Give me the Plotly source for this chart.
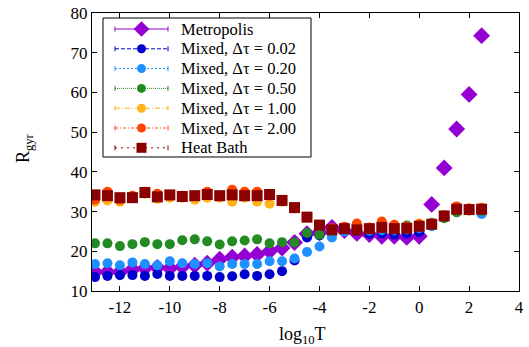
import plotly.graph_objects as go

logT = [-13 + 0.5 * i for i in range(32)]

metropolis = [14.8, 14.8, 14.8, 15.4, 15.7, 15.9, 15.7, 16.1, 16.5, 17.0, 18.0, 18.5, 18.8, 19.2, 20.0, 20.8,
              22.2, 24.4, 24.7, 26.0, 25.2, 24.5, 24.2, 23.8, 23.8, 23.5, 23.8, 31.8, 41.0, 50.8, 59.5, 74.3]
mixed_002 = [13.5, 13.8, 14.0, 14.0, 13.8, 14.3, 13.8, 13.8, 13.8, 13.8, 13.5, 13.7, 14.2, 13.8, 14.2, 15.0,
             17.7, 23.5, 24.0, 25.0, 25.5, 25.2, 24.4, 24.5, 24.2, 24.5, 24.8, 26.5, 28.6, 30.6, 30.5, 30.0]
mixed_020 = [16.8, 17.0, 16.5, 17.2, 16.8, 16.5, 17.5, 17.0, 16.8, 17.0, 16.2, 16.8, 16.8, 16.8, 17.5, 17.5,
             18.2, 19.8, 21.2, 23.5, 25.0, 25.3, 25.2, 25.3, 25.3, 25.5, 25.8, 26.3, 28.6, 30.5, 30.6, 29.4]
mixed_050 = [22.0, 22.0, 21.3, 21.8, 22.3, 21.8, 21.8, 22.8, 23.0, 22.5, 21.7, 22.5, 22.7, 23.0, 22.0, 22.3,
             22.2, 24.6, 24.2, 25.3, 25.8, 25.5, 25.8, 26.0, 26.3, 26.5, 26.8, 27.2, 28.3, 29.8, 30.3, 30.2]
mixed_100 = [32.5, 32.8, 32.5, 33.5, 34.5, 33.2, 33.5, 33.5, 33.0, 33.5, 33.5, 32.5, 33.5, 32.5, 32.0, 32.5,
             30.8, 28.5, 26.5, 25.5, 25.8, 25.8, 25.8, 26.2, 26.0, 26.2, 27.0, 27.0, 29.0, 30.5, 30.8, 31.0]
mixed_200 = [33.0, 35.0, 33.0, 34.0, 35.0, 34.5, 34.0, 34.0, 34.0, 35.0, 34.0, 35.5, 35.0, 35.0, 34.0, 33.0,
             31.0, 28.6, 26.6, 25.8, 26.2, 27.0, 26.0, 27.5, 26.7, 26.2, 26.8, 27.0, 29.0, 31.3, 30.8, 30.8]
heat_bath = [34.2, 34.0, 33.5, 33.5, 34.8, 33.7, 34.2, 33.8, 34.0, 34.3, 34.0, 34.2, 34.0, 34.0, 34.3, 32.8,
             31.0, 28.6, 26.6, 25.4, 25.7, 25.4, 25.7, 26.0, 25.7, 25.8, 26.3, 26.8, 28.9, 30.6, 30.5, 30.6]

names = ["Metropolis", "Mixed, Δτ = 0.02", "Mixed, Δτ = 0.20", "Mixed, Δτ = 0.50",
         "Mixed, Δτ = 1.00", "Mixed, Δτ = 2.00", "Heat Bath"]
values = [metropolis, mixed_002, mixed_020, mixed_050, mixed_100, mixed_200, heat_bath]

x_ticks = [-12, -10, -8, -6, -4, -2, 0, 2, 4]
x_ticktext = ["-12", "-10", "-8", "-6", "-4", "-2", "0", "2", "4"]
y_ticks = [10, 20, 30, 40, 50, 60, 70, 80]

# styles
colors = ["#9400D3", "#0000CD", "#1E90FF", "#228B22", "#FFB31A", "#FF4500", "#8B0000"]
symbols = ["diamond", "circle", "circle", "circle", "circle", "circle", "square"]
sizes = [13, 10, 10, 10, 10, 10, 11]
dashes = ["solid", "4px,2px", "2px,2px", "1px,1px", "5px,2px,1px,2px", "3px,2px,1px,2px", "2px,4px"]

# plot area in pixels (layout only)
L, R, T, B = 92, 519, 13, 291
font = "Liberation Serif, Times New Roman, serif"

fig = go.Figure()
for name, vals, c, s, z in zip(names, values, colors, symbols, sizes):
    fig.add_trace(go.Scatter(
        x=logT, y=vals, mode="markers", showlegend=False, hoverinfo="skip", name=name,
        marker=dict(symbol=s, size=z, color=c, opacity=1, line=dict(width=0)),
    ))

# hand-drawn key (gnuplot style) on an overlay pixel axis
key_x0, key_x1, key_mid, key_text = 115, 168, 141.5, 179
row0, row_step = 29, 19.8
for i, (name, c, s, z, d) in enumerate(zip(names, colors, symbols, sizes, dashes)):
    ry = row0 + i * row_step
    fig.add_trace(go.Scatter(
        x=[key_x0, key_x1], y=[ry, ry], xaxis="x2", yaxis="y2",
        mode="lines", showlegend=False, hoverinfo="skip",
        line=dict(color=c, width=1, dash=d),
    ))
    fig.add_trace(go.Scatter(
        x=[key_x0, key_x0, None, key_x1, key_x1], y=[ry - 2.5, ry + 2.5, None, ry - 2.5, ry + 2.5],
        xaxis="x2", yaxis="y2", mode="lines", showlegend=False, hoverinfo="skip",
        line=dict(color=c, width=1),
    ))
    fig.add_trace(go.Scatter(
        x=[key_mid], y=[ry], xaxis="x2", yaxis="y2", mode="markers",
        showlegend=False, hoverinfo="skip",
        marker=dict(symbol=s, size=z - 1, color=c, opacity=1, line=dict(width=0)),
    ))
    fig.add_annotation(text=name, xref="x2", yref="y2", x=key_text, y=ry, xanchor="left",
                       yanchor="middle", showarrow=False,
                       font=dict(family=font, size=16.5, color="black"))

fig.add_shape(type="rect", xref="x2", yref="y2", x0=103, x1=311, y0=18, y1=157,
              line=dict(color="black", width=1), fillcolor="white", layer="below")

axis_common = dict(
    showline=True, linecolor="black", linewidth=1.2, mirror="ticks",
    ticks="inside", ticklen=5, tickcolor="black", showgrid=False, zeroline=False,
    tickfont=dict(family=font, size=17, color="black"), automargin=False,
)
fig.update_layout(
    xaxis=dict(range=[-13.12, 4], tickvals=x_ticks, ticktext=x_ticktext, **axis_common),
    yaxis=dict(range=[10, 80], tickvals=y_ticks, **axis_common),
    xaxis2=dict(range=[L, R], overlaying="x", visible=False, anchor="y2", automargin=False),
    yaxis2=dict(range=[B, T], overlaying="y", visible=False, anchor="x2", automargin=False),
)

fig.add_annotation(text="log<sub>10</sub>T", xref="paper", yref="paper", x=(302 - L) / (R - L),
                   y=(B - 335) / (B - T), xanchor="center", yanchor="middle", showarrow=False,
                   font=dict(family=font, size=18, color="black"))
fig.add_annotation(text="R<sub>gyr</sub>", xref="paper", yref="paper", x=(24 - L) / (R - L),
                   y=(B - 148) / (B - T), xanchor="center", yanchor="middle", showarrow=False,
                   textangle=-90, font=dict(family=font, size=18, color="black"))

fig.update_layout(
    width=529, height=347,
    margin=dict(l=L, r=529 - R, t=T, b=347 - B),
    plot_bgcolor="white", paper_bgcolor="white",
    font=dict(family=font, size=14, color="black"),
    showlegend=False,
)

fig.write_html("out.html")
